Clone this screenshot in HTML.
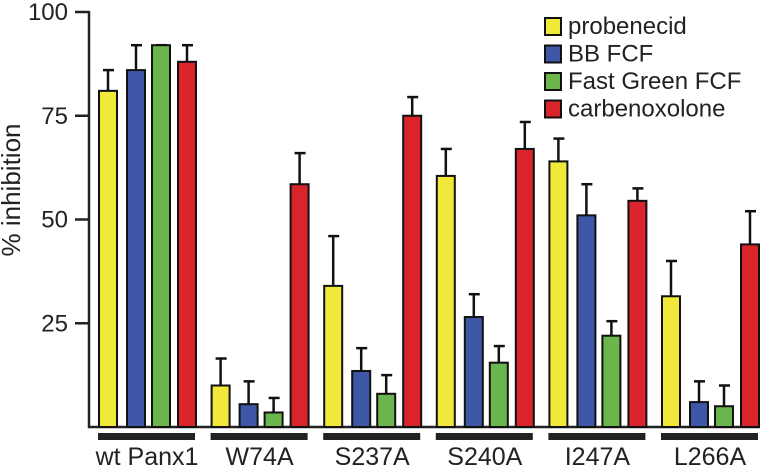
<!DOCTYPE html>
<html><head><meta charset="utf-8"><style>
body{margin:0;background:#fff}
svg text{font-family:"Liberation Sans",sans-serif;fill:#222}
</style></head><body>
<svg id="chart" width="760" height="470" xmlns="http://www.w3.org/2000/svg"></svg>
<script>
const categories=["wt Panx1","W74A","S237A","S240A","I247A","L266A"];
const seriesNames=["probenecid","BB FCF","Fast Green FCF","carbenoxolone"];
const probenecid=[81,10,34,60.5,64,31.5];
const probenecidErr=[86,16.5,46,67,69.5,40];
const bbfcf=[86,5.5,13.5,26.5,51,6];
const bbfcfErr=[92,11,19,32,58.5,11];
const fastgreen=[92,3.5,8,15.5,22,5];
const fastgreenErr=[92,7,12.5,19.5,25.5,10];
const carbeno=[88,58.5,75,67,54.5,44];
const carbenoErr=[92,66,79.5,73.5,57.5,52];
const yTicks=[25,50,75,100];
const colors=["#f0e93a","#3e56a6","#6ab54c","#d9242b"];
const vals=[probenecid,bbfcf,fastgreen,carbeno];
const errs=[probenecidErr,bbfcfErr,fastgreenErr,carbenoErr];
const NS="http://www.w3.org/2000/svg";
const svg=document.getElementById('chart');
function y(v){return 427-v*4.15;}
function gx(i){return 99+i*112.6;}
const offs=[0,28,53,79];
function mk(t,a,p){const e=document.createElementNS(NS,t);for(const k in a)e.setAttribute(k,a[k]);(p||svg).appendChild(e);return e;}
let ax=mk('line',{x1:89,y1:11,x2:89,y2:428,stroke:'#222','stroke-width':2.5});


let bx=mk('line',{x1:88,y1:427,x2:760,y2:427,stroke:'#222','stroke-width':2.5});


yTicks.forEach(t=>{
 let l=mk('line',{x1:75,y1:y(t),x2:89,y2:y(t),stroke:'#222','stroke-width':2.5});
 
 
 let tx=mk('text',{x:68,y:y(t)+8,'text-anchor':'end','font-size':24});
 tx.textContent=t;
 
 
});
let yt=mk('text',{x:0,y:0,'text-anchor':'middle','font-size':26,transform:'translate(20,190) rotate(-90)'});
yt.textContent='% inhibition';


categories.forEach((c,i)=>{
 const x0=gx(i);
 for(let s=0;s<4;s++){
  const x=x0+offs[s], w=18, v=vals[s][i], e=errs[s][i];
  const cx=x+w/2;
  let el=mk('line',{x1:cx,y1:y(v),x2:cx,y2:y(e),stroke:'#111','stroke-width':2.5});
  
  
  let ec=mk('line',{x1:cx-5,y1:y(e),x2:cx+6,y2:y(e),stroke:'#111','stroke-width':2.5});
  
  
  let r=mk('rect',{x:x,y:y(v),width:w,height:427-y(v),fill:colors[s],stroke:'#111','stroke-width':2});
  
  
 }
 let g=mk('rect',{x:x0-1,y:433,width:97,height:7,fill:'#222'});
 
 
 let t=mk('text',{x:x0+48,y:465,'text-anchor':'middle','font-size':25});
 t.textContent=c;
 
 
});
seriesNames.forEach((n,s)=>{
 let r=mk('rect',{x:545,y:18+s*27.5,width:16,height:17,fill:colors[s],stroke:'#111','stroke-width':2});
 
 
 let t=mk('text',{x:568,y:34+s*27.5,'font-size':24});
 t.textContent=n;
 
 
});
</script>
</body></html>
